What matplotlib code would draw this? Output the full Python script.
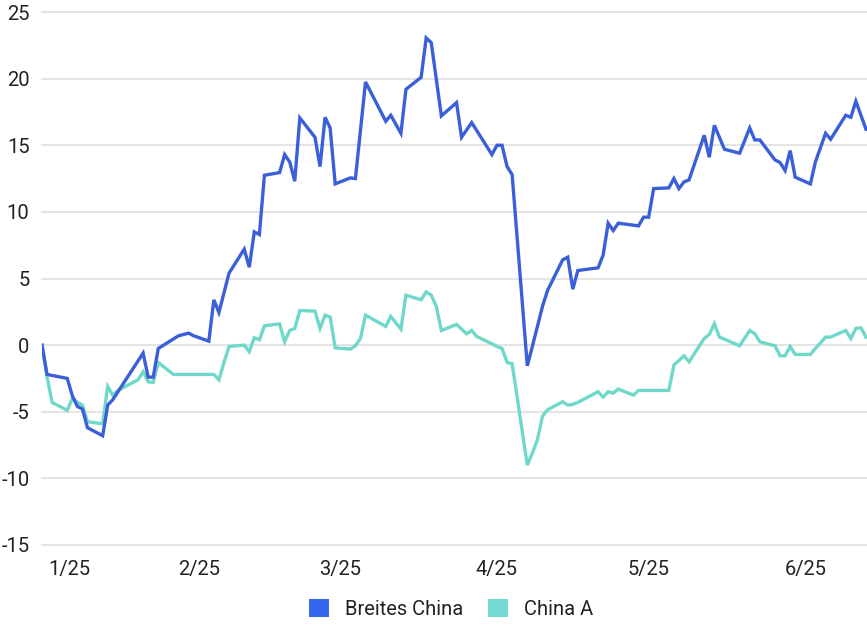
import numpy as np
import matplotlib
matplotlib.use('Agg')
import matplotlib.pyplot as plt
import matplotlib.dates as mdates
from matplotlib.patches import Patch
from matplotlib.transforms import ScaledTranslation

plt.rcParams['font.family'] = ['Roboto', 'DejaVu Sans']
plt.rcParams['axes.unicode_minus'] = False

# days since 1 Jan 2025, performance in %
broad_days = [0, 1, 5, 6, 7, 8, 9, 12, 13, 14, 20, 21, 22, 23, 27, 28, 29, 30,
              33, 34, 35, 37, 40, 41, 42, 43, 44, 47, 48, 49, 50, 51, 54, 55,
              56, 57, 58, 61, 62, 64, 68, 69, 71, 72, 75, 76, 77, 79, 82, 83,
              85, 89, 90, 91, 92, 93, 96, 97, 98, 99, 100, 103, 104, 105, 106,
              110, 111, 112, 113, 114, 118, 119, 120, 121, 124, 125, 126, 127,
              128, 131, 132, 133, 135, 138, 140, 141, 142, 145, 146, 147, 148,
              149, 152, 153, 155, 156, 159, 160, 161, 163]
broad_vals = [0, -2.2, -2.5, -3.8, -4.6, -4.8, -6.2, -6.8, -4.5, -4.1, -0.6,
              -2.4, -2.4, -0.25, 0.7, 0.8, 0.9, 0.7, 0.3, 3.4, 2.45, 5.4, 7.2,
              5.85, 8.5, 8.3, 12.75, 12.95, 14.3, 13.75, 12.3, 17.05, 15.6,
              13.4, 17.1, 16.3, 12.1, 12.55, 12.5, 19.75, 16.8, 17.25, 15.9,
              19.2, 20.1, 23.05, 22.7, 17.2, 18.2, 15.6, 16.7, 14.3, 15.0,
              15.0, 13.4, 12.8, -1.55, -0.1, 1.4, 2.9, 4.1, 6.4, 6.6, 4.2, 5.6,
              5.8, 6.75, 9.15, 8.6, 9.15, 8.95, 9.6, 9.6, 11.75, 11.8, 12.5,
              11.75, 12.25, 12.4, 15.75, 14.1, 16.5, 14.7, 14.4, 16.3, 15.4,
              15.4, 13.9, 13.7, 13.1, 14.6, 12.6, 12.1, 13.75, 15.9, 15.45,
              17.25, 17.1, 18.3, 16.2]

a_days = [0, 1, 2, 5, 6, 7, 8, 9, 12, 13, 14, 15, 16, 17, 19, 20, 21, 22, 23,
          26, 34, 35, 36, 37, 40, 41, 42, 43, 44, 47, 48, 49, 50, 51, 54, 55,
          56, 57, 58, 61, 62, 63, 64, 68, 69, 71, 72, 75, 76, 77, 78, 79, 82,
          84, 85, 86, 89, 90, 91, 92, 93, 96, 97, 98, 99, 100, 103, 104, 105,
          106, 107, 110, 111, 112, 113, 114, 117, 118, 124, 125, 126, 127,
          128, 131, 132, 133, 134, 135, 138, 140, 141, 142, 145, 146, 147,
          148, 149, 152, 153, 155, 156, 159, 160, 161, 162, 163]
a_vals = [0, -2.4, -4.3, -4.9, -4.0, -4.3, -4.5, -5.75, -5.9, -3.1, -3.75,
          -3.4, -3.2, -3.0, -2.6, -2.0, -2.75, -2.8, -1.3, -2.2, -2.2, -2.6,
          -1.3, -0.1, 0.0, -0.5, 0.55, 0.4, 1.45, 1.6, 0.25, 1.1, 1.25, 2.6,
          2.55, 1.25, 2.25, 2.1, -0.2, -0.3, -0.05, 0.5, 2.25, 1.4, 2.15, 1.2,
          3.75, 3.4, 4.0, 3.75, 2.9, 1.1, 1.55, 0.85, 1.1, 0.65, 0.1, -0.1,
          -0.25, -1.3, -1.4, -9.0, -8.1, -7.1, -5.35, -4.85, -4.25, -4.5,
          -4.45, -4.3, -4.1, -3.5, -3.9, -3.5, -3.6, -3.3, -3.75, -3.4, -3.4,
          -1.5, -1.15, -0.8, -1.25, 0.5, 0.8, 1.6, 0.6, 0.45, -0.05, 1.1,
          0.85, 0.25, -0.05, -0.8, -0.8, -0.1, -0.7, -0.7, -0.25, 0.6, 0.6,
          1.1, 0.5, 1.25, 1.3, 0.6]

series_names = ['Breites China', 'China A']
series_colors = ['#3a5fd8', '#6fd8c9']
legend_colors = ['#3566ee', '#74dcd3']
month_labels = ['1/25', '2/25', '3/25', '4/25', '5/25', '6/25']
month_starts = ['2025-01-01', '2025-02-01', '2025-03-01', '2025-04-01',
                '2025-05-01', '2025-06-01']

base = np.datetime64('2025-01-01')
bx = base + np.array(broad_days, dtype='timedelta64[D]')
axd = base + np.array(a_days, dtype='timedelta64[D]')

fig = plt.figure(figsize=(8.67, 6.27), dpi=100)
ax = fig.add_axes([42 / 867, 82 / 627, 825 / 867, 533 / 627])

ax.plot(bx, broad_vals, color=series_colors[0], lw=2.4, solid_joinstyle='miter', zorder=3)
ax.plot(axd, a_vals, color=series_colors[1], lw=2.4, solid_joinstyle='miter', zorder=2)

x0 = mdates.date2num(base)
ax.set_xlim(x0 + 0.28, x0 + 163.2)
ax.set_ylim(-15, 25)
ax.set_yticks(range(-15, 30, 5))
ax.grid(axis='y', color='#e2e2e2', lw=1.3)
for gl in ax.get_ygridlines():
    gl.set_clip_on(False)
ax.set_axisbelow(True)

ax.set_xticks(mdates.date2num(np.array(month_starts, dtype='datetime64[D]')))
ax.set_xticklabels(month_labels)
ax.tick_params(axis='both', length=0, labelsize=14.5, colors='#222222')
ax.tick_params(axis='y', pad=9)
ax.tick_params(axis='x', pad=11)
first = ax.get_xticklabels()[0]
first.set_ha('left')
first.set_transform(first.get_transform() + ScaledTranslation(6 / 100, 0, fig.dpi_scale_trans))

for s in ax.spines.values():
    s.set_visible(False)

handles = [Patch(facecolor=c, edgecolor='none') for c in legend_colors]
fig.legend(handles, series_names, loc='center', bbox_to_anchor=(451 / 867, 1 - 609 / 627),
           ncol=2, frameon=False, fontsize=14.5, handlelength=1.0, handleheight=1.0,
           handletextpad=0.8, columnspacing=1.2, labelcolor='#222222')

fig.savefig('out.png', dpi=100)
